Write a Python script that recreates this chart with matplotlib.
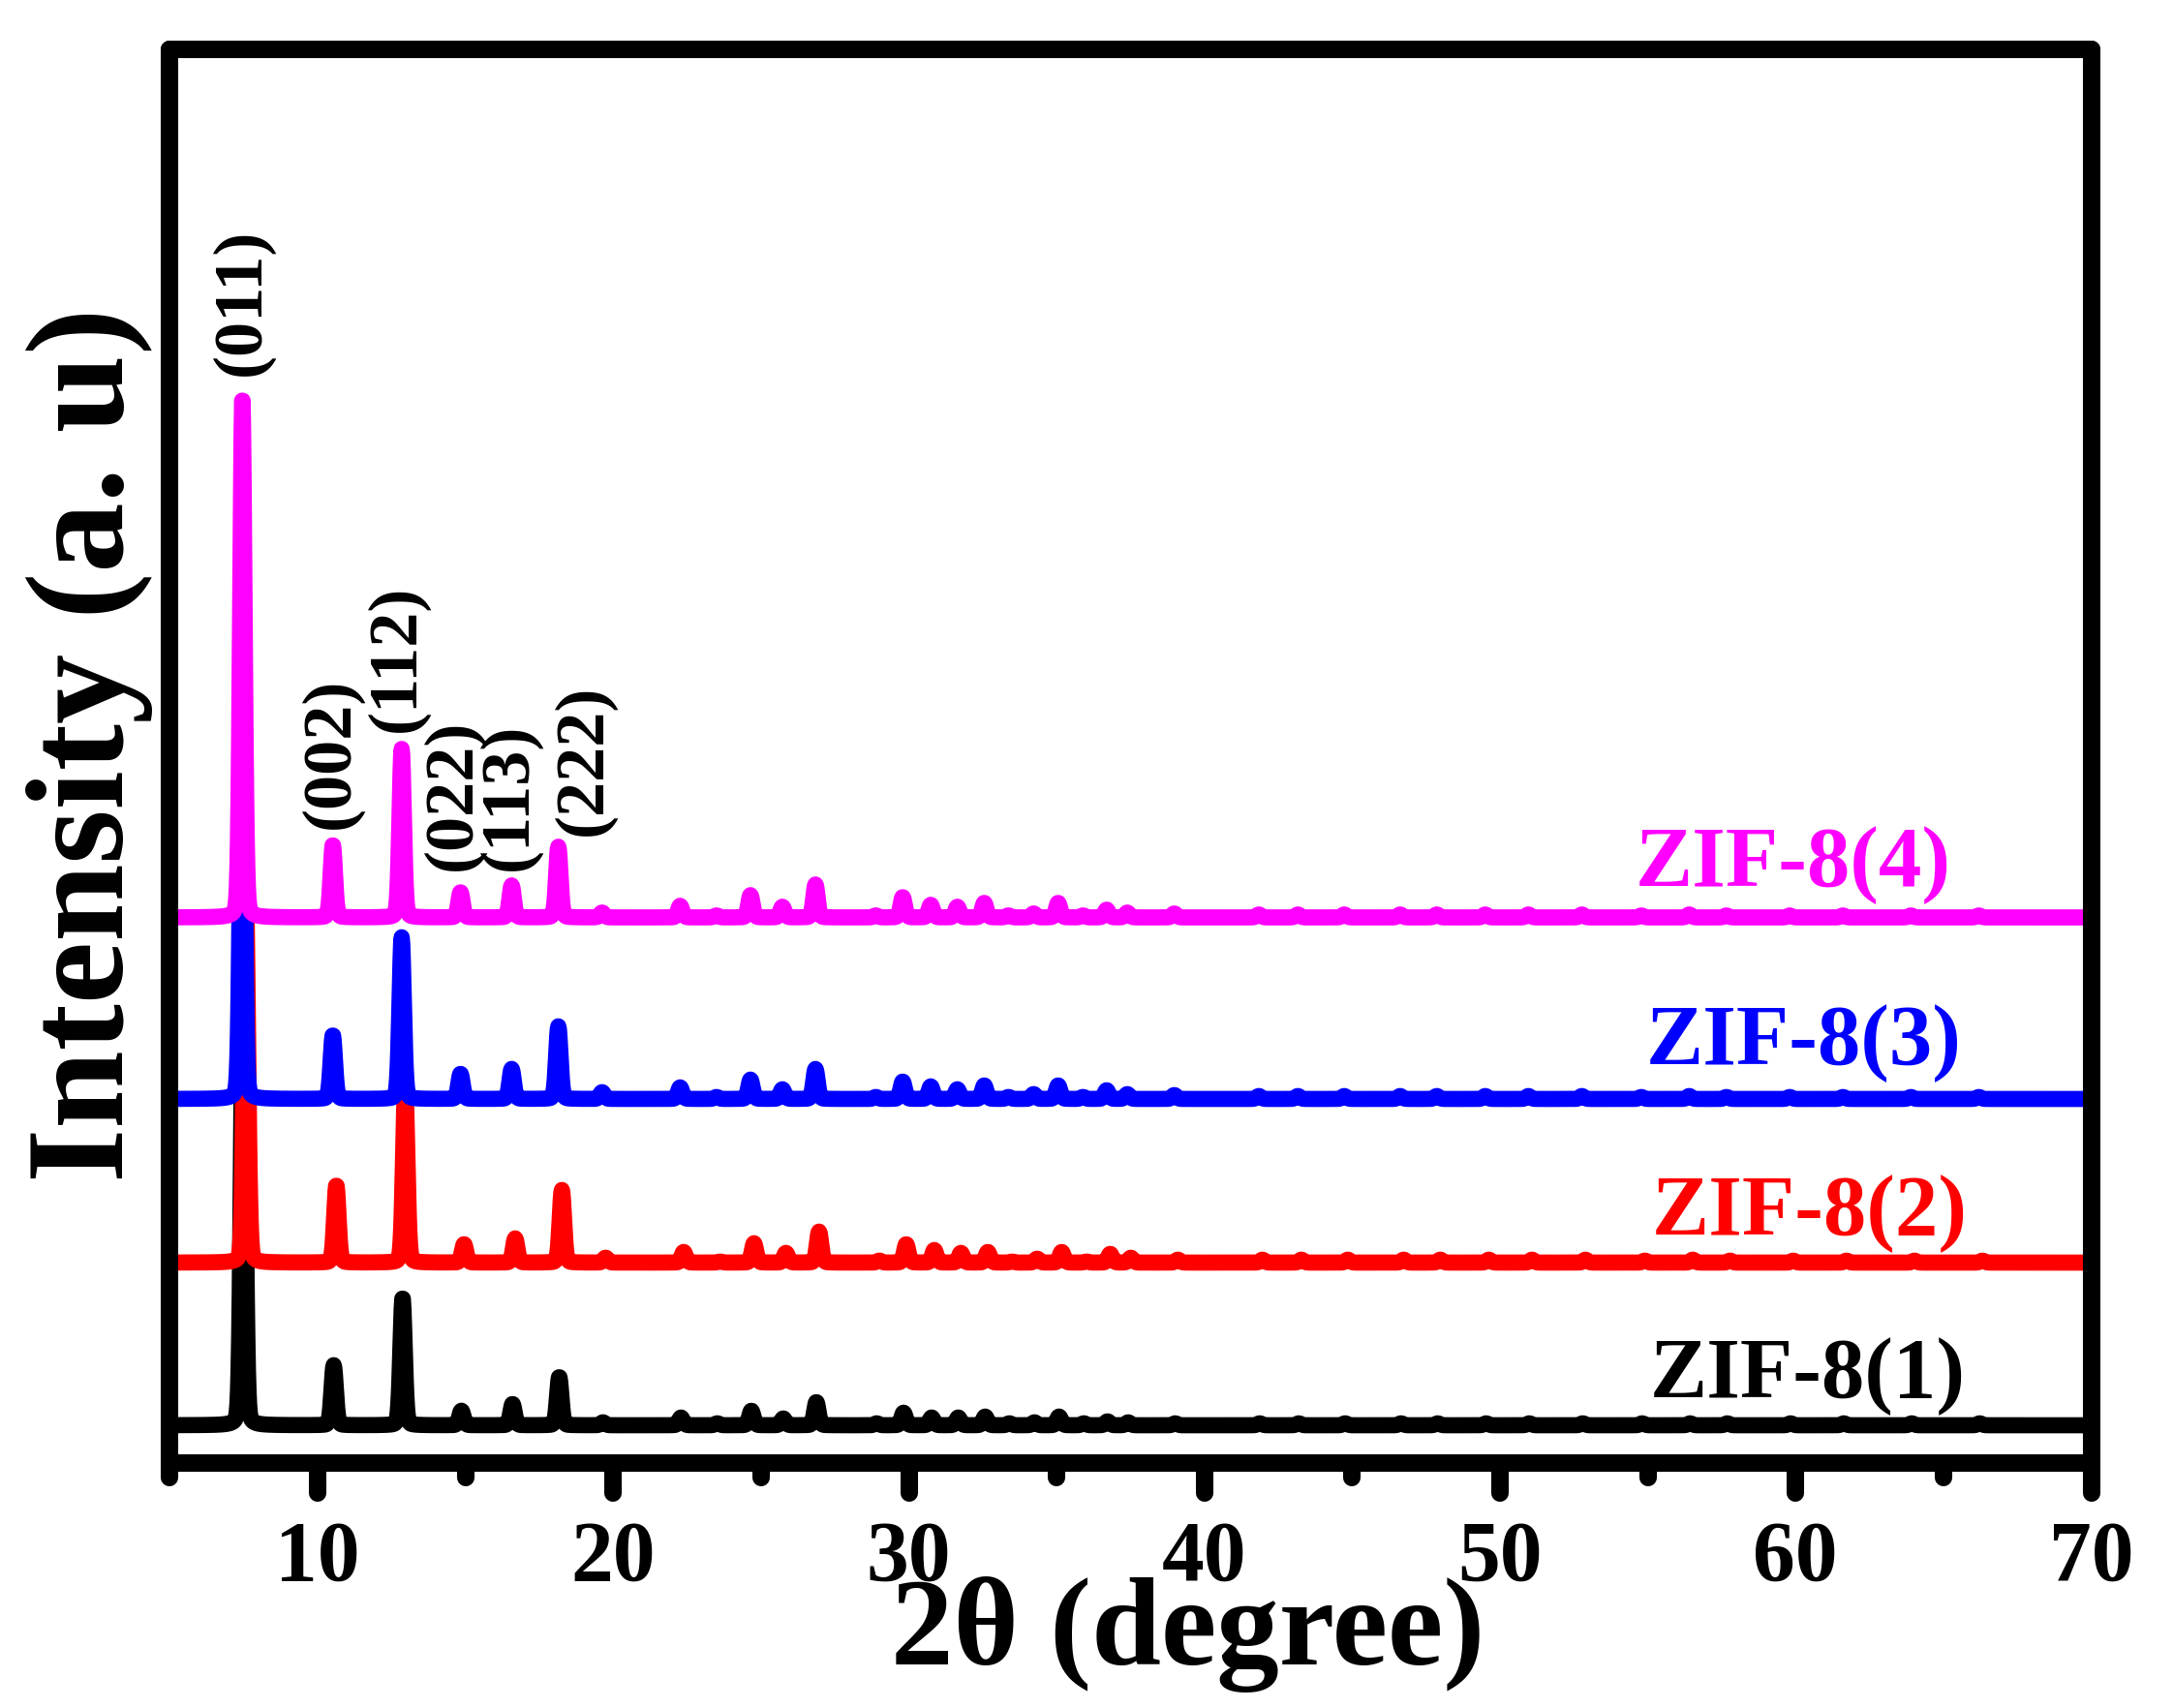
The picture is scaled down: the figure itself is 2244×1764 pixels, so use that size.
import numpy as np
import matplotlib
matplotlib.use("Agg")
import matplotlib.pyplot as plt
from matplotlib.ticker import MultipleLocator
from matplotlib.markers import MarkerStyle, TICKDOWN

plt.rcParams['font.family'] = ['Liberation Serif', 'DejaVu Serif']
plt.rcParams['font.weight'] = 'bold'

# ---------------- data ----------------
# peak positions (2theta, degrees) of the ZIF-8 pattern
peak_pos = [7.45, 10.51, 12.84, 14.83, 16.56, 18.14, 19.62, 22.26, 23.49, 24.64,
            25.72, 26.84, 28.88, 29.79, 30.74, 31.64, 32.55, 33.37, 34.22, 35.05,
            35.89, 36.69, 37.39, 38.98, 41.84, 43.16, 44.73, 46.62, 47.86, 49.50,
            50.96, 52.77, 54.78, 56.40, 57.66, 59.80, 61.60, 63.90, 66.20]

# peak heights (a.u.) for each sample
h_zif1 = [480, 62, 132, 15, 22, 50, 3, 8, 2, 15,
          7, 24, 2, 13, 8, 8, 9, 2, 3, 9,
          2, 4, 3, 2, 2, 2, 2, 2, 2, 2,
          2, 2, 2, 2, 2, 2, 2, 2, 2]
h_zif2 = [380, 80, 180, 19, 25, 75, 5, 11, 1, 20,
          10, 32, 2, 19, 13, 10, 11, 1, 4, 11,
          1, 9, 5, 3, 3, 3, 3, 3, 3, 3,
          3, 3, 2, 3, 2, 2, 2, 2, 2]
h_zif3 = [470, 66, 167, 26, 31, 75, 7, 12, 2, 20,
          10, 31, 2, 18, 13, 10, 14, 2, 5, 14,
          2, 9, 5, 4, 3, 3, 3, 3, 3, 3,
          3, 3, 2, 3, 2, 2, 2, 2, 2]
h_zif4 = [539, 75, 174, 26, 33, 73, 5, 12, 2, 23,
          11, 34, 2, 21, 13, 11, 15, 2, 4, 15,
          2, 8, 5, 4, 3, 3, 3, 3, 3, 3,
          3, 3, 2, 3, 2, 2, 2, 2, 2]

series_names = ['ZIF-8(1)', 'ZIF-8(2)', 'ZIF-8(3)', 'ZIF-8(4)']
series_heights = [h_zif1, h_zif2, h_zif3, h_zif4]
series_shift = [0.03, 0.12, 0.0, 0.0]        # small 2theta shift of each pattern
series_offset = [39, 207, 376, 563.5]        # vertical stacking offset
series_xend = [69.65, 70, 70, 70]
series_colors = ['#000000', '#FF0000', '#0000FF', '#FF00FF']
label_x = [65.76, 65.80, 65.63, 65.27]
label_y = [68, 236, 412, 596]

hkl_labels = ['(011)', '(002)', '(112)', '(022)', '(113)', '(222)']
hkl_x = [7.44, 10.46, 12.69, 14.58, 16.48, 19.00]
hkl_y = [1123, 655, 755, 612, 612, 648]

# ---------------- figure ----------------
W, H = 2244, 1764
fig = plt.figure(figsize=(W / 100, H / 100), dpi=100)
ax = fig.add_axes([175.5 / W, 1 - 1511 / H, 1984 / W, 1460 / H])

sigma, eta, gamma = 0.075, 0.15, 0.08


def profile(x, pos, hts, shift):
    y = np.zeros_like(x)
    for p, h in zip(pos, hts):
        d = x - (p + shift)
        g = np.exp(-0.5 * (d / sigma) ** 2)
        lo = gamma ** 2 / (d ** 2 + gamma ** 2)
        y += h * ((1 - eta) * g + eta * lo)
    return y


for name, hts, sh, off, xe, col, lx, ly in zip(series_names, series_heights, series_shift,
                                               series_offset, series_xend, series_colors,
                                               label_x, label_y):
    x = np.arange(5.0, xe + 1e-9, 0.02)
    y = profile(x, peak_pos, hts, sh) + off
    ax.plot(x, y, color=col, lw=12, solid_joinstyle='round')
    ax.text(lx, ly, name, color=col, fontsize=64, fontweight='bold',
            ha='right', va='baseline')

for t, x, y in zip(hkl_labels, hkl_x, hkl_y):
    ax.text(x, y, t, rotation=90, ha='center', va='bottom', fontsize=52,
            fontweight='bold', color='black')

ax.set_xlim(5, 70)
ax.set_ylim(0, 1460)
ax.set_yticks([])
ax.xaxis.set_major_locator(MultipleLocator(10))
ax.xaxis.set_minor_locator(MultipleLocator(5))
ax.tick_params(axis='x', which='major', direction='out', length=22, width=13,
               pad=20, labelsize=63)
ax.tick_params(axis='x', which='minor', direction='out', length=11, width=13)
for lab in ax.get_xticklabels():
    lab.set_fontweight('bold')
for s in ax.spines.values():
    s.set_linewidth(13)
    s.set_capstyle('round')
    s.set_joinstyle('round')

# rounded tick ends, as in the reference
try:
    for tk in ax.xaxis.get_major_ticks() + ax.xaxis.get_minor_ticks():
        tk.tick1line.set_marker(MarkerStyle(TICKDOWN, capstyle='round'))
except Exception:
    pass

ax.set_xlabel('2θ (degree)', fontsize=93, fontweight='bold')
ax.xaxis.set_label_coords(0.530, -0.080)
ax.set_ylabel('Intensity (a. u)', fontsize=104, fontweight='bold')
ax.yaxis.set_label_coords(-0.0088, 0.508)

fig.savefig('out.png', dpi=100)
